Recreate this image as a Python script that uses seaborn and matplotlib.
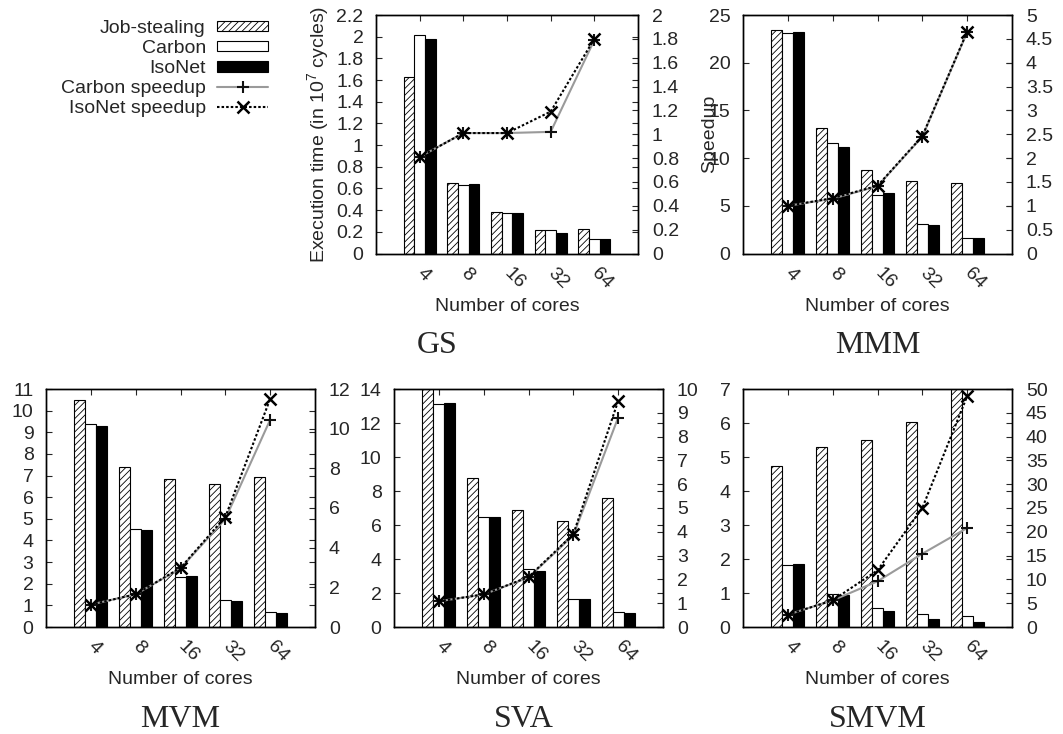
import numpy as np
import pandas as pd
import matplotlib
matplotlib.use("Agg")
import matplotlib.pyplot as plt
import matplotlib.transforms as mtrans
import seaborn as sns
from matplotlib.patches import Patch
from matplotlib.lines import Line2D
from matplotlib.ticker import MultipleLocator, FuncFormatter

# ---------------------------------------------------------------- data
cores = ["4", "8", "16", "32", "64"]
schemes = ["Job-stealing", "Carbon", "IsoNet"]

gs_job = [1.63, 0.65, 0.385, 0.22, 0.225]
gs_carbon = [2.02, 0.635, 0.37, 0.215, 0.13]
gs_isonet = [1.98, 0.645, 0.375, 0.185, 0.13]
gs_carbon_speedup = [0.81, 1.01, 1.01, 1.02, 1.79]
gs_isonet_speedup = [0.81, 1.01, 1.01, 1.19, 1.80]

mmm_job = [23.4, 13.2, 8.8, 7.6, 7.4]
mmm_carbon = [23.1, 11.6, 6.1, 3.1, 1.6]
mmm_isonet = [23.2, 11.2, 6.3, 3.0, 1.6]
mmm_carbon_speedup = [1.0, 1.15, 1.41, 2.45, 4.64]
mmm_isonet_speedup = [1.0, 1.16, 1.42, 2.46, 4.65]

mvm_job = [10.5, 7.4, 6.85, 6.6, 6.95]
mvm_carbon = [9.4, 4.55, 2.3, 1.25, 0.68]
mvm_isonet = [9.3, 4.5, 2.35, 1.2, 0.63]
mvm_carbon_speedup = [1.13, 1.65, 2.95, 5.45, 10.45]
mvm_isonet_speedup = [1.13, 1.65, 2.98, 5.55, 11.5]

sva_job = [14.0, 8.75, 6.9, 6.25, 7.6]
sva_carbon = [13.1, 6.45, 3.4, 1.65, 0.88]
sva_isonet = [13.2, 6.5, 3.28, 1.62, 0.82]
sva_carbon_speedup = [1.08, 1.37, 2.08, 3.85, 8.8]
sva_isonet_speedup = [1.08, 1.37, 2.10, 3.90, 9.5]

smvm_job = [4.75, 5.28, 5.5, 6.02, 7.0]
smvm_carbon = [1.82, 0.97, 0.57, 0.38, 0.33]
smvm_isonet = [1.84, 0.94, 0.46, 0.24, 0.15]
smvm_carbon_speedup = [2.6, 5.6, 9.6, 15.4, 20.8]
smvm_isonet_speedup = [2.6, 5.6, 11.9, 25.0, 48.5]

# ---------------------------------------------------------------- style
sns.set_style("white")
plt.rcParams.update({
    "font.family": ["Liberation Sans", "DejaVu Sans"],
    "mathtext.fontset": "custom",
    "mathtext.rm": "Liberation Sans",
    "mathtext.it": "Liberation Sans:italic",
    "mathtext.bf": "Liberation Sans:bold",
    "axes.edgecolor": "black",
    "axes.linewidth": 1.0,
    "hatch.linewidth": 0.6,
})

W, H = 1063, 734
fig = plt.figure(figsize=(W / 100, H / 100), dpi=100)

BAR_COLORS = {"Job-stealing": "white", "Carbon": "white", "IsoNet": "black"}
CARBON_LINE = "#9a9a9a"
DOTTED = (0, (1.2, 1.0))
TICK_FS = 14
LABEL_FS = 14

fmt = FuncFormatter(lambda v, p: f"{v:g}")
xlabel_shift = mtrans.ScaledTranslation(-6 / 100, 0, fig.dpi_scale_trans)


def panel(rect_px, title, title_xy, job, carbon, isonet, c_sp, i_sp,
          ylim, ystep, y2lim, y2step, ylabel=None, y2label=None):
    l, r, t, b = rect_px
    ax = fig.add_axes([l / W, (H - b) / H, (r - l) / W, (b - t) / H])

    df = pd.DataFrame({
        "cores": cores * 3,
        "scheme": np.repeat(schemes, len(cores)),
        "time": job + carbon + isonet,
    })
    sns.barplot(data=df, x="cores", y="time", hue="scheme", order=cores,
                hue_order=schemes, palette=BAR_COLORS, edgecolor="black",
                linewidth=0.8, width=0.735, gap=0, errorbar=None,
                legend=False, ax=ax)
    for bar in ax.containers[0]:
        bar.set_hatch("/////")

    ax.set_ylim(*ylim)
    ax.yaxis.set_major_locator(MultipleLocator(ystep))
    ax.yaxis.set_major_formatter(fmt)

    ax2 = ax.twinx()
    sns.lineplot(x=cores, y=c_sp, ax=ax2, sort=False, color=CARBON_LINE,
                 linewidth=1.5, marker="+", markersize=9,
                 markeredgecolor="#111111", markeredgewidth=1.5)
    sns.lineplot(x=cores, y=i_sp, ax=ax2, sort=False, color="black",
                 linewidth=1.5, linestyle=DOTTED, marker="x",
                 markersize=8, markeredgecolor="black",
                 markeredgewidth=1.8)
    ax2.set_ylim(*y2lim)
    ax2.yaxis.set_major_locator(MultipleLocator(y2step))
    ax2.yaxis.set_major_formatter(fmt)
    ax2.set_ylabel(y2label if y2label else "", fontsize=LABEL_FS,
                   labelpad=16)

    ax.set_xlim(-1, 5)
    ax.tick_params(axis="y", direction="in", left=True, right=True,
                   length=4, width=0.8, labelsize=TICK_FS, pad=9)
    ax.tick_params(axis="x", direction="in", top=True, bottom=True,
                   length=4, width=0.8, labelsize=TICK_FS, pad=8)
    ax2.tick_params(axis="y", direction="in", right=True, length=4,
                    width=0.8, labelsize=TICK_FS, pad=10)
    for lab in ax.get_xticklabels():
        lab.set_rotation(-45)
        lab.set_ha("left")
        lab.set_va("top")
        lab.set_transform(lab.get_transform() + xlabel_shift)

    ax.set_xlabel("Number of cores", fontsize=LABEL_FS, labelpad=4)
    ax.set_ylabel(ylabel if ylabel else "", fontsize=LABEL_FS, labelpad=4)
    for sp in list(ax.spines.values()) + list(ax2.spines.values()):
        sp.set_color("black")

    fig.text(title_xy[0] / W, 1 - title_xy[1] / H, title,
             family="Liberation Serif", fontsize=23, ha="center",
             va="baseline")


panel((376, 638, 15, 253.5), "GS", (437, 353), gs_job, gs_carbon,
      gs_isonet, gs_carbon_speedup, gs_isonet_speedup,
      (0, 2.2), 0.2, (0, 2), 0.2,
      ylabel="Execution time (in 10$^{7}$ cycles)", y2label="Speedup")
panel((743, 1012, 15, 253.5), "MMM", (878, 353), mmm_job, mmm_carbon,
      mmm_isonet, mmm_carbon_speedup, mmm_isonet_speedup,
      (0, 25), 5, (0, 5), 0.5)
panel((46, 315, 389, 627), "MVM", (180, 727), mvm_job, mvm_carbon,
      mvm_isonet, mvm_carbon_speedup, mvm_isonet_speedup,
      (0, 11), 1, (0, 12), 2)
panel((394, 663, 389, 627), "SVA", (524, 727), sva_job, sva_carbon,
      sva_isonet, sva_carbon_speedup, sva_isonet_speedup,
      (0, 14), 2, (0, 10), 1)
panel((743, 1012, 389, 627), "SMVM", (878, 727), smvm_job, smvm_carbon,
      smvm_isonet, smvm_carbon_speedup, smvm_isonet_speedup,
      (0, 7), 1, (0, 50), 5)

# ---------------------------------------------------------------- legend
handles = [
    Patch(facecolor="white", edgecolor="black", hatch="/////", lw=0.8),
    Patch(facecolor="white", edgecolor="black", lw=0.8),
    Patch(facecolor="black", edgecolor="black", lw=0.8),
    Line2D([], [], color=CARBON_LINE, lw=1.5, marker="+", ms=9,
           mec="#111111", mew=1.5),
    Line2D([], [], color="black", lw=1.5, ls=DOTTED, marker="x",
           ms=8, mec="black", mew=1.8),
]
labels = ["Job-stealing", "Carbon", "IsoNet", "Carbon speedup",
          "IsoNet speedup"]
fig.legend(handles, labels, loc="upper right",
           bbox_to_anchor=(268 / W, 1 - 20 / H), frameon=False,
           markerfirst=False, fontsize=LABEL_FS, handlelength=2.6,
           handleheight=0.45, handletextpad=0.6, labelspacing=0.16,
           borderpad=0, borderaxespad=0)

fig.savefig("out.png", dpi=100)
